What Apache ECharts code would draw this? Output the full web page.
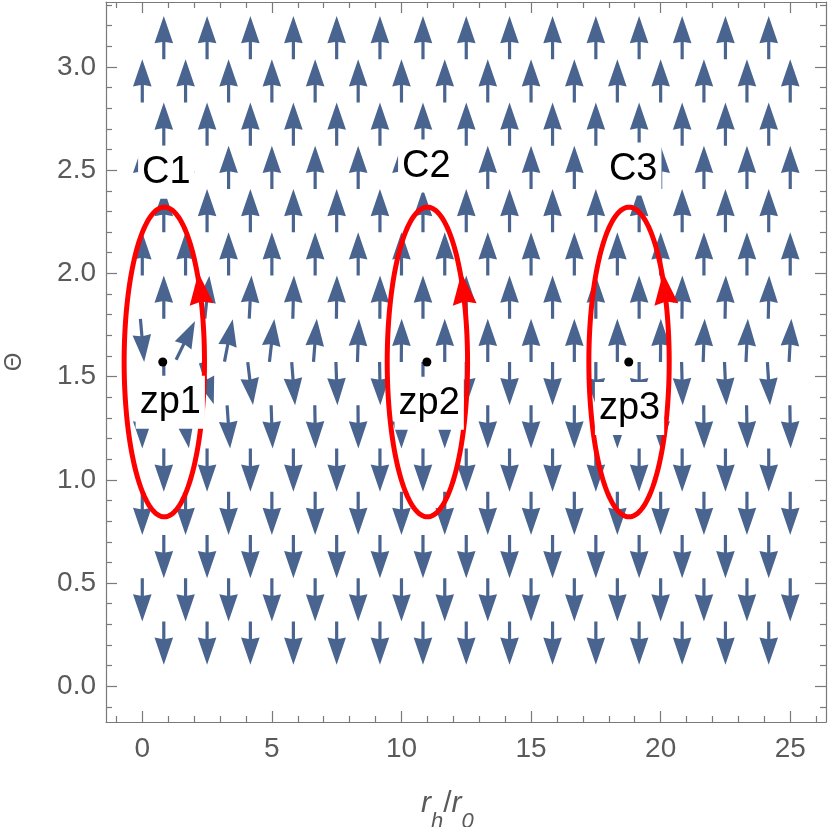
<!DOCTYPE html>
<html><head><meta charset="utf-8">
<script src="https://cdn.jsdelivr.net/npm/echarts@6/dist/echarts.min.js"></script>
<style>html,body{margin:0;padding:0;background:#fff}#c{width:830px;height:827px}</style>
</head><body><div id="c"></div>
<script>
// ---------- data ----------
const thetaRows = [0.2094, 0.4189, 0.6283, 0.8378, 1.0472, 1.2566, 1.4661, 1.6755, 1.8850, 2.0944, 2.3038, 2.5133, 2.7227, 2.9322, 3.1416];
const rOdd  = [0.83, 2.5, 4.17, 5.83, 7.5, 9.17, 10.83, 12.5, 14.17, 15.83, 17.5, 19.17, 20.83, 22.5, 24.17];
const rEven = [0, 1.67, 3.33, 5, 6.67, 8.33, 10, 11.67, 13.33, 15, 16.67, 18.33, 20, 21.67, 23.33, 25];
// arrow headings (degrees clockwise from "up") for the rows near Theta = pi/2
const headingRow6 = [180, 171, 176, 178, 179, 179.5, 180, 180, 180, 180, 180, 180, 180, 179.5, 179, 179];
const headingRow7 = [180, 162, 173, 175.5, 178, 179, 180, 180, 180, 180, 180, 180, 178.5, 177.5, 176.5];
const headingRow8 = [175, 26, 11, 6.5, 4.4, 2, 0.5, 0, 0, 0, 0, 0, 0.5, 2, 2.5, 3];
const headingRow9 = [0, 6, 3, 1.5, 0.7, 0.3, 0, 0, 0, 0, 0, 0, 0.5, 1, 1.2];
const headingUpperRows = 0, headingLowerRows = 180;

const zpNames = ['zp1', 'zp2', 'zp3'];
const zpR = [0.79, 10.98, 18.77];
const zpTheta = [1.5708, 1.5708, 1.5708];
const zpLabelR = [1.08, 11.07, 18.8];
const zpLabelTheta = [1.376, 1.371, 1.345];

const contourNames = ['C1', 'C2', 'C3'];
const contourR = [0.85, 11.0, 18.78];
const contourTheta = [1.5708, 1.5708, 1.5708];
const contourA = [1.55, 1.55, 1.55];
const contourB = [0.75, 0.75, 0.75];
const contourLabelR = [0.93, 10.96, 18.94];
const contourLabelTheta = [2.49, 2.52, 2.505];

const xMajorTicks = [0, 5, 10, 15, 20, 25];
const xMinorTicks = [-1, 1, 2, 3, 4, 6, 7, 8, 9, 11, 12, 13, 14, 16, 17, 18, 19, 21, 22, 23, 24, 26];
const yMajorTicks = [0, 0.5, 1.0, 1.5, 2.0, 2.5, 3.0];
const yMinorTicks = [-0.1, 0.1, 0.2, 0.3, 0.4, 0.6, 0.7, 0.8, 0.9, 1.1, 1.2, 1.3, 1.4, 1.6, 1.7, 1.8, 1.9, 2.1, 2.2, 2.3, 2.4, 2.6, 2.7, 2.8, 2.9, 3.1, 3.2, 3.3];

// ---------- build ----------
const headingByRow = {6: headingRow6, 7: headingRow7, 8: headingRow8, 9: headingRow9};
const arrowData = [];
thetaRows.forEach((th, i) => {
  const k = i + 1;
  const rs = (k % 2 === 1) ? rOdd : rEven;
  const special = headingByRow[k];
  rs.forEach((r, j) => {
    const h = special ? special[j] : (k <= 7 ? headingLowerRows : headingUpperRows);
    arrowData.push([r, th, h]);
  });
});
const contourData = contourR.map((r, i) => [r, contourTheta[i], contourA[i], contourB[i]]);
const zpData = zpR.map((r, i) => [r, zpTheta[i]]);
const labelData = contourNames.map((n, i) => ({name: n, value: [contourLabelR[i], contourLabelTheta[i]]}))
  .concat(zpNames.map((n, i) => ({name: n, value: [zpLabelR[i], zpLabelTheta[i]]})));

const FONT = '"Liberation Sans", Arial, Helvetica, sans-serif';
const frameColor = '#7a7a7a';
const textColor = '#5a5a5a';
const arrowColor = '#4a6490';
const X_MIN = -1.4, X_MAX = 26.38, Y_MIN = -0.1728, Y_MAX = 3.3144;

// arrow glyph in local pixel coords, pointing up, centred on its base point
const ARROW = [[0, -21.6], [9.3, 5.6], [1.6, 4.2], [1.6, 21.6], [-1.6, 21.6], [-1.6, 4.2], [-9.3, 5.6]];

function axis(dim, position, ticks, len, withLabel, withLine, fmt) {
  return {
    type: 'value', position: position,
    min: dim === 'x' ? X_MIN : Y_MIN, max: dim === 'x' ? X_MAX : Y_MAX,
    axisLine: {show: withLine, onZero: false, lineStyle: {color: frameColor, width: 1.2}},
    axisTick: {show: true, inside: true, length: len, customValues: ticks, lineStyle: {color: frameColor, width: 1.2}},
    axisLabel: withLabel ? {show: true, customValues: ticks, formatter: fmt, color: textColor,
      fontSize: 28, fontFamily: FONT, margin: dim === 'x' ? 13 : 10} : {show: false},
    splitLine: {show: false}
  };
}

const chart = echarts.init(document.getElementById('c'), null, {renderer: 'canvas'});
chart.setOption({
  animation: false,
  backgroundColor: '#ffffff',
  grid: {left: 106, right: 4, top: 2, bottom: 105, containLabel: false, outerBoundsMode: 'none'},
  xAxis: [
    axis('x', 'bottom', xMajorTicks, 11, true, true, v => String(Math.round(v))),
    axis('x', 'bottom', xMinorTicks, 6, false, false),
    axis('x', 'top', xMajorTicks, 11, false, true),
    axis('x', 'top', xMinorTicks, 6, false, false)
  ],
  yAxis: [
    Object.assign(axis('y', 'left', yMajorTicks, 11, true, true, v => v.toFixed(1)),
      {name: 'Θ', nameLocation: 'middle', nameRotate: 90, nameGap: 80,
       nameTextStyle: {color: textColor, fontSize: 24, fontFamily: FONT}}),
    axis('y', 'left', yMinorTicks, 6, false, false),
    axis('y', 'right', yMajorTicks, 11, false, true),
    axis('y', 'right', yMinorTicks, 6, false, false)
  ],
  graphic: [{
    type: 'text', left: 421, top: 789, z: 10,
    style: {
      text: '{i|r}{s|h}{n|/}{i|r}{s|0}',
      rich: {
        i: {fontSize: 30, fontStyle: 'italic', fontFamily: FONT, fill: textColor, verticalAlign: 'top', lineHeight: 44},
        n: {fontSize: 30, fontFamily: FONT, fill: textColor, verticalAlign: 'top', lineHeight: 44},
        s: {fontSize: 22, fontStyle: 'italic', fontFamily: FONT, fill: textColor, verticalAlign: 'bottom', lineHeight: 44, padding: [13, 0, 0, 0]}
      }
    }
  }],
  series: [
    {
      type: 'custom', name: 'field', xAxisIndex: 0, yAxisIndex: 0, z: 2,
      data: arrowData, clip: false,
      renderItem: function (params, api) {
        const c = api.coord([api.value(0), api.value(1)]);
        const h = api.value(2) * Math.PI / 180;
        return {type: 'polygon', x: c[0], y: c[1], rotation: -h,
          shape: {points: ARROW}, style: {fill: arrowColor}};
      }
    },
    {
      type: 'custom', name: 'contours', xAxisIndex: 0, yAxisIndex: 0, z: 3,
      data: contourData, clip: false,
      renderItem: function (params, api) {
        const c = api.coord([api.value(0), api.value(1)]);
        const s = api.size([api.value(2), api.value(3)]);
        const rx = s[0], ry = s[1];
        const pts = [];
        for (let i = 0; i <= 180; i++) {
          const t = i / 180 * Math.PI * 2;
          pts.push([c[0] + rx * Math.cos(t), c[1] - ry * Math.sin(t)]);
        }
        const tb = 0.38;
        const B = [c[0] + rx * Math.cos(tb), c[1] - ry * Math.sin(tb)];
        let T = [-rx * Math.sin(tb), -ry * Math.cos(tb)];
        const L = Math.hypot(T[0], T[1]); T = [T[0] / L, T[1] / L];
        const N = [-T[1], T[0]];
        const tip = [B[0] + 32 * T[0], B[1] + 32 * T[1]];
        const head = [tip, [B[0] + 12 * N[0], B[1] + 12 * N[1]], [B[0] + 3 * T[0], B[1] + 3 * T[1]], [B[0] - 12 * N[0], B[1] - 12 * N[1]]];
        return {type: 'group', children: [
          {type: 'polyline', shape: {points: pts}, style: {stroke: '#ff0000', lineWidth: 5, fill: null}},
          {type: 'polygon', shape: {points: head}, style: {fill: '#ff0000'}}
        ]};
      }
    },
    {
      type: 'scatter', name: 'labels', xAxisIndex: 0, yAxisIndex: 0, z: 4,
      symbolSize: 0, data: labelData, silent: true,
      itemStyle: {opacity: 1},
      label: {show: true, position: 'inside', formatter: '{b}', color: '#000000', fontSize: 38,
        fontFamily: FONT, backgroundColor: '#ffffff', padding: [5, 4, 4, 4], lineHeight: 44}
    },
    {
      type: 'scatter', name: 'zero points', xAxisIndex: 0, yAxisIndex: 0, z: 5,
      symbol: 'circle', symbolSize: 9, data: zpData, itemStyle: {color: '#000000', opacity: 1}
    }
  ]
});
</script></body></html>
